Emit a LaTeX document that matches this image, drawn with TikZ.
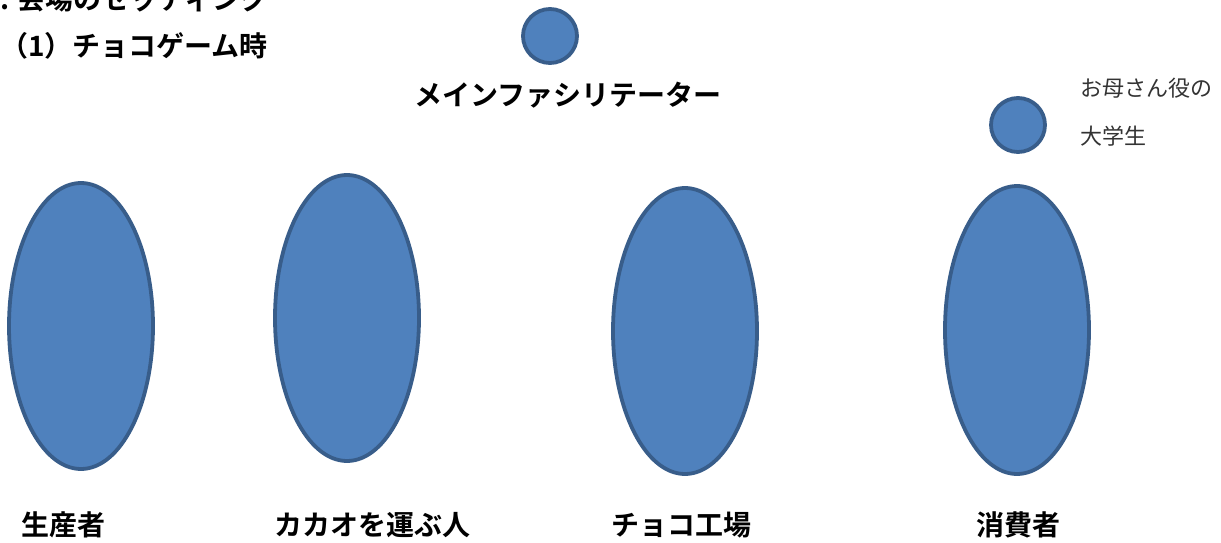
\documentclass[tikz,border=0pt]{standalone}
\usepackage{fontspec}
\newfontfamily\jpbold{Noto Sans CJK JP Bold}
\newfontfamily\jp{Noto Sans CJK JP}
\begin{document}
\begin{tikzpicture}[x=1pt,y=-1pt]
\definecolor{pfill}{HTML}{4F81BD}
\definecolor{pline}{HTML}{385D8A}
\tikzset{
  person/.style={draw=pline, fill=pfill, line width=3.8pt},
  lbl/.style={inner sep=0pt, anchor=west, font=\jpbold\fontsize{28}{28}\selectfont},
  note/.style={inner sep=0pt, anchor=west, font=\jp\fontsize{22}{22}\selectfont, text=black!80}}
\useasboundingbox (0,0) rectangle (1221,543);
\clip (0,0) rectangle (1221,543);
% title texts
\node[lbl] (title) at (0,-1) {. 会場のセッティング};
\node[lbl] (sub) at (0,46) {（1）チョコゲーム時};
% facilitator
\draw[person] (550,36) circle (27);
\node[lbl, anchor=center] (fac) at (568,95) {メインファシリテーター};
% mother
\draw[person] (1018,125) circle (27);
\node[note] (m1) at (1080,88) {お母さん役の};
\node[note] (m2) at (1080,136) {大学生};
% ellipses
\draw[person] (81,326) ellipse (72 and 143);
\draw[person] (347,318) ellipse (72 and 143);
\draw[person] (685,331) ellipse (72 and 143);
\draw[person] (1017,330) ellipse (72 and 144);
% labels
\node[lbl] (l1) at (21,525) {生産者};
\node[lbl] (l2) at (274,525) {カカオを運ぶ人};
\node[lbl] (l3) at (611,525) {チョコ工場};
\node[lbl] (l4) at (976,525) {消費者};
\end{tikzpicture}
\end{document}
